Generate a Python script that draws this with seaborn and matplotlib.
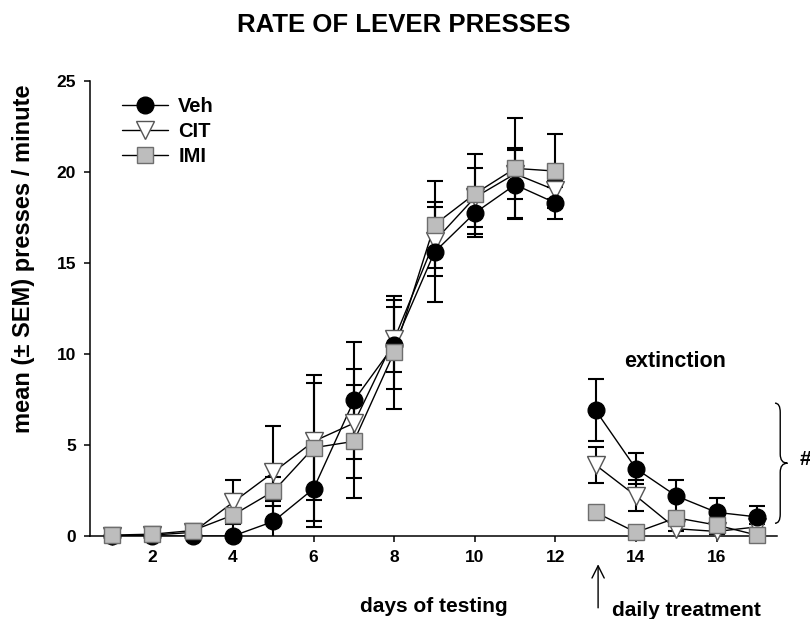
import numpy as np
import pandas as pd
import matplotlib
matplotlib.use("Agg")
import matplotlib.pyplot as plt
from matplotlib.lines import Line2D
from matplotlib.path import Path
from matplotlib.patches import PathPatch
import seaborn as sns

# Mean lever-press rate (± SEM) per testing day for each treatment group
days = list(range(1, 18))
veh_mean = [0.0, 0.0, 0.0, 0.0, 0.8, 2.6, 7.45, 10.5, 15.6, 17.75, 19.3, 18.3, 6.9, 3.7, 2.2, 1.3, 1.05]
veh_sem = [0.05, 0.05, 0.1, 0.1, 1.1, 2.1, 3.2, 2.45, 2.75, 1.3, 1.9, 0.9, 1.7, 0.85, 0.9, 0.8, 0.6]
cit_mean = [0.0, 0.05, 0.2, 1.85, 3.5, 5.2, 6.2, 10.8, 16.2, 18.6, 19.9, 19.0, 3.9, 2.2, 0.4, 0.25, 0.5]
cit_sem = [0.05, 0.05, 0.1, 1.2, 2.55, 3.2, 3.0, 1.8, 1.9, 1.6, 1.4, 0.5, 1.0, 0.85, 0.15, 0.15, 0.15]
imi_mean = [0.05, 0.1, 0.3, 1.15, 2.45, 4.85, 5.2, 10.1, 17.1, 18.8, 20.2, 20.05, 1.3, 0.2, 1.0, 0.6, 0.05]
imi_sem = [0.05, 0.05, 0.1, 1.15, 0.8, 4.0, 3.1, 3.1, 2.4, 2.2, 2.75, 2.05, 0.1, 0.1, 0.2, 0.15, 0.1]
groups = ["Veh", "CIT", "IMI"]
last_training_day = 12

x_ticks = [2, 4, 6, 8, 10, 12, 14, 16]
y_ticks = [0, 5, 10, 15, 20, 25]

sns.set_theme(style="ticks")
plt.rcParams["font.family"] = ["Liberation Sans", "DejaVu Sans"]
plt.rcParams["font.weight"] = "bold"
for key in ["text.color", "axes.labelcolor", "xtick.color", "ytick.color",
            "xtick.labelcolor", "ytick.labelcolor", "axes.edgecolor"]:
    plt.rcParams[key] = "black"

frames = []
for g, m, s in zip(groups, [veh_mean, cit_mean, imi_mean], [veh_sem, cit_sem, imi_sem]):
    frames.append(pd.DataFrame({
        "day": days, "mean": m, "sem": s, "group": g,
        "phase": ["training" if d <= last_training_day else "extinction" for d in days],
    }))
df = pd.concat(frames, ignore_index=True)

styles = {
    "Veh": dict(marker="o", ms=12, mfc="black", mec="black", z=5),
    "CIT": dict(marker="v", ms=13, mfc="white", mec="#555555", z=4),
    "IMI": dict(marker="s", ms=11, mfc="#bdbdbd", mec="#6e6e6e", z=6),
}

fig = plt.figure(figsize=(8.1, 6.19), dpi=100)
ax = fig.add_axes([90 / 810, 1 - 536 / 619, (777 - 90) / 810, (536 - 81) / 619])

# connecting lines, broken between training and extinction phases
sns.lineplot(data=df, x="day", y="mean", hue="group", units="phase", estimator=None,
             palette={g: "black" for g in groups}, linewidth=1.0, legend=False,
             ax=ax, zorder=2, sort=True)

for g in groups:
    sub = df[df["group"] == g]
    ax.errorbar(sub["day"], sub["mean"], yerr=sub["sem"], fmt="none", ecolor="black",
                elinewidth=1.5, capsize=5.5, capthick=1.5, zorder=3)
for g in ["CIT", "Veh", "IMI"]:
    sub = df[df["group"] == g]
    st = styles[g]
    ax.plot(sub["day"], sub["mean"], linestyle="none", marker=st["marker"], ms=st["ms"],
            mfc=st["mfc"], mec=st["mec"], mew=1.0, zorder=st["z"], clip_on=False)

ax.set_xlim(0.45, 17.5)
ax.set_ylim(0, 25)
ax.set_xticks(x_ticks)
ax.set_yticks(y_ticks)
ax.tick_params(axis="both", direction="out", length=4, width=1.1, labelsize=12.5, pad=6,
               colors="black")
for lab in ax.get_xticklabels() + ax.get_yticklabels():
    lab.set_fontweight("bold")
ax.set_xlabel("")
ax.set_ylabel("")
for side in ["top", "right"]:
    ax.spines[side].set_visible(False)
for side in ["left", "bottom"]:
    ax.spines[side].set_linewidth(1.1)
    ax.spines[side].set_color("black")

handles = [Line2D([0], [0], color="black", lw=1.0, marker=styles[g]["marker"],
                  ms=styles[g]["ms"], mfc=styles[g]["mfc"], mec=styles[g]["mec"])
           for g in groups]
ax.legend(handles, groups, loc="upper left", bbox_to_anchor=(0.02, 1.005), frameon=False,
          handlelength=2.3, handletextpad=0.5, labelspacing=0.3,
          prop={"size": 14.5, "weight": "bold"})

fig.text(404 / 810, 1 - 25 / 619, "RATE OF LEVER PRESSES", ha="center", va="center",
         fontsize=18.5, fontweight="bold")
fig.text(24 / 810, 1 - 259 / 619, "mean (± SEM) presses / minute", rotation=90,
         ha="center", va="center", fontsize=17, fontweight="bold")
fig.text(434 / 810, 1 - 607 / 619, "days of testing", ha="center", va="center",
         fontsize=15, fontweight="bold")
fig.text(686 / 810, 1 - 610 / 619, "daily treatment", ha="center", va="center",
         fontsize=15, fontweight="bold")

ax.text(14.97, 9.6, "extinction", ha="center", va="center", fontsize=15.5,
        fontweight="bold", clip_on=False)
ax.annotate("", xy=(13.06, -1.4), xytext=(13.06, -4.1),
            arrowprops=dict(arrowstyle="->", lw=1.0, color="black", mutation_scale=22),
            annotation_clip=False)

# curly brace marking the extinction-phase group difference
xl, xm, xr = 17.45, 17.58, 17.76
yt, yb, ymid = 7.3, 0.7, 4.0
verts = [(xl, yt), (xm, yt), (xm, yt - 0.5),
         (xm, ymid + 0.5),
         (xm, ymid), (xr, ymid),
         (xm, ymid), (xm, ymid - 0.5),
         (xm, yb + 0.5),
         (xm, yb), (xl, yb)]
codes = [Path.MOVETO, Path.CURVE3, Path.CURVE3, Path.LINETO, Path.CURVE3, Path.CURVE3,
         Path.CURVE3, Path.CURVE3, Path.LINETO, Path.CURVE3, Path.CURVE3]
ax.add_patch(PathPatch(Path(verts, codes), fill=False, lw=1.0, ec="black", clip_on=False))
ax.text(18.2, 4.2, "#", ha="center", va="center", fontsize=15, fontweight="bold",
        clip_on=False)

fig.savefig("out.png", dpi=100)
